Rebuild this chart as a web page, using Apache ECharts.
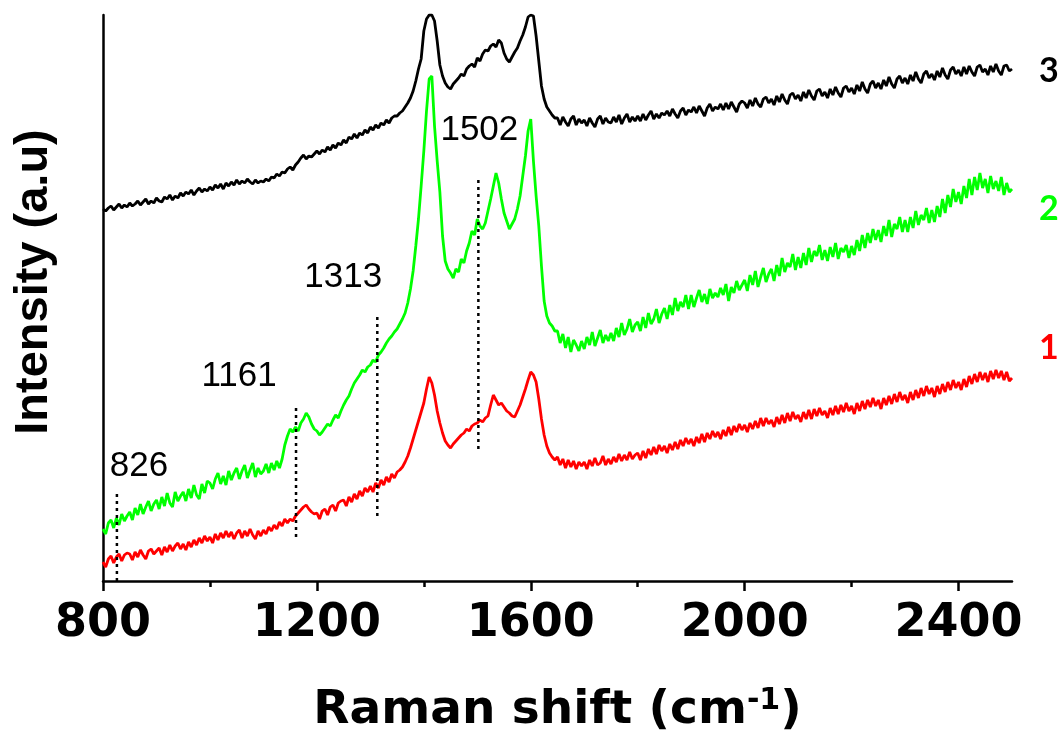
<!DOCTYPE html>
<html>
<head>
<meta charset="utf-8">
<script src="https://cdn.jsdelivr.net/npm/echarts@6/dist/echarts.min.js"></script>
<style>
  html, body { margin: 0; padding: 0; background: #ffffff; }
  #chart { width: 1060px; height: 731px; }
</style>
</head>
<body>
<div id="chart"></div>
<script>
// Raman spectra sampled every 5 cm-1 from 800 to 2500 cm-1 (intensity in arbitrary units)
const shiftStart = 800;
const shiftStep = 5;

// Spectrum 3 (black), one row per 50 cm-1
const intensity3 = [
  372,370,373,375,371,374,377,373,376,374,
  378,375,377,380,376,379,382,377,380,378,
  383,380,379,384,382,386,381,385,383,388,
  385,389,387,391,386,390,393,389,392,390,
  394,391,396,393,397,392,398,395,399,396,
  401,397,400,398,402,399,397,401,398,400,
  399,402,400,404,403,407,405,409,408,412,
  414,411,416,419,423,426,422,425,424,427,
  430,427,431,429,434,431,436,433,438,436,
  441,438,444,442,447,443,448,446,451,448,
  454,451,456,453,458,456,461,458,463,465,
  465,468,470,474,478,483,490,500,512,522,
  550,562,566,566,560,540,516,505,498,494,
  492,497,500,503,507,505,512,515,517,514,
  523,520,527,531,530,535,537,534,541,538,
  528,522,519,524,529,533,540,546,554,564,
  566,565,545,520,495,482,474,470,466,463,
  463,456,464,459,455,462,465,456,462,458,
  461,455,463,458,454,462,465,457,463,459,
  458,464,459,466,457,463,467,459,464,460,
  465,460,467,461,466,470,462,467,463,468,
  466,470,465,472,467,463,470,473,466,471,
  469,474,468,475,470,465,473,477,470,474,
  472,477,471,478,472,479,474,469,477,480,
  478,473,481,475,483,477,474,482,484,478,
  482,476,485,479,487,481,477,486,488,482,
  486,480,489,483,491,485,481,490,492,485,
  489,483,492,486,494,488,484,493,495,489,
  493,487,496,490,499,492,488,497,500,493,
  498,492,501,495,504,497,493,502,505,498,
  503,497,506,500,509,502,498,507,510,503,
  507,501,510,504,513,506,502,511,514,507,
  511,505,514,507,515,509,505,514,516,509,
  512,506,515,509,517,510,506,515,516,510,
  512
];

// Spectrum 2 (green)
const intensity2 = [
  52,47,58,61,53,63,56,67,60,65,
  69,61,73,66,77,67,74,80,70,77,
  81,72,84,75,88,78,74,89,80,85,
  89,80,92,83,96,86,82,97,88,100,
  98,92,102,108,97,105,96,110,101,108,
  113,102,110,116,103,111,118,104,113,107,
  110,117,108,118,111,120,113,122,136,145,
  152,149,154,150,158,162,168,164,157,152,
  150,146,149,153,157,155,161,166,163,170,
  176,181,185,192,198,202,206,211,209,214,
  216,221,219,226,229,233,238,242,245,249,
  252,257,262,268,278,292,310,335,362,395,
  430,470,502,505,455,420,389,345,320,312,
  308,303,312,309,322,318,330,338,350,346,
  362,355,352,358,370,382,395,408,398,382,
  368,360,352,357,362,372,385,405,425,450,
  462,420,385,355,315,280,265,258,255,250,
  250,238,247,233,244,229,241,236,230,240,
  232,244,236,249,235,243,251,238,246,240,
  248,240,253,244,258,246,252,262,249,256,
  259,250,264,253,268,257,262,272,258,267,
  273,262,276,266,283,270,279,274,286,272,
  286,274,283,291,279,287,277,292,283,288,
  284,293,286,297,280,294,288,300,291,296,
  301,290,306,296,310,294,304,313,299,307,
  312,300,316,305,323,309,318,314,327,311,
  324,313,328,316,333,319,330,325,336,321,
  331,320,334,324,338,322,333,329,336,323,
  335,326,341,330,346,333,348,338,352,341,
  351,339,355,345,361,344,357,352,364,349,
  361,349,364,353,370,356,366,361,373,358,
  371,359,375,364,382,368,386,374,392,379,
  389,377,395,383,402,386,404,391,408,393,
  402,388,405,392,400,390,404,386,398,389,
  392
];

// Spectrum 1 (red)
const intensity1 = [
  19,14,22,25,18,24,27,20,26,28,
  27,21,29,24,31,26,22,30,32,27,
  30,33,26,34,29,36,30,35,38,32,
  37,31,39,34,41,36,43,38,45,40,
  44,38,47,41,48,43,50,44,49,42,
  48,51,43,50,45,52,46,42,50,45,
  51,47,54,50,56,52,59,55,62,58,
  62,60,65,68,71,74,76,72,69,67,
  68,62,70,72,66,74,76,70,78,80,
  81,75,84,79,87,82,90,85,93,89,
  95,89,98,93,101,96,104,99,107,103,
  109,111,114,119,125,133,142,151,160,169,
  178,192,204,198,186,170,158,148,140,136,
  133,137,140,143,146,148,152,150,155,157,
  158,161,159,163,165,176,186,181,176,178,
  174,170,168,165,164,170,176,184,192,201,
  209,206,199,182,162,146,135,128,124,121,
  124,116,122,113,121,114,120,112,119,115,
  119,112,121,115,123,116,118,125,116,122,
  117,124,119,127,120,126,121,129,122,126,
  128,121,130,123,132,126,134,127,136,130,
  135,128,137,131,139,132,141,135,143,137,
  142,135,144,138,147,139,148,142,150,144,
  149,142,151,145,154,146,155,149,157,151,
  156,149,158,152,160,153,163,155,163,157,
  161,154,164,157,166,158,168,160,169,162,
  166,159,169,162,171,162,172,165,173,166,
  170,163,173,166,175,167,176,169,178,170,
  175,167,178,170,180,172,181,174,183,175,
  181,172,183,176,185,177,187,179,189,181,
  186,178,189,181,191,183,193,185,195,187,
  193,184,195,187,197,189,199,191,201,193,
  199,191,202,194,205,197,207,199,209,201,
  208,199,210,202,211,203,210,201,209,200,
  203
];

// Marked band positions (cm-1) and the extent of their guide lines
const peakShifts = [826, 1161, 1313, 1502];
const peakLineTop = [87, 174, 264, 404];
const peakLineBottom = [0, 44, 65, 132];

// Axis ticks
const majorTicks = [800, 1200, 1600, 2000, 2400];
const minorTicks = [1000, 1400, 1800, 2200];

const spectrumLabels = ['3', '2', '1'];

// ---- build chart ----
const shifts = intensity3.map((_, i) => shiftStart + i * shiftStep);
const toPairs = arr => arr.map((v, i) => [shifts[i], v]);

const peakLabelOffsets = [[22, -28], [-57, -31], [-34, -40], [1, -47]];

function spectrumSeries(values, color, label, dy) {
  return {
    type: 'line',
    data: toPairs(values),
    symbol: 'none',
    showSymbol: false,
    lineStyle: { color: color, width: 2.8 },
    itemStyle: { color: color },
    z: 2,
    endLabel: {
      show: true,
      formatter: label,
      color: color,
      fontFamily: 'Lato',
      fontWeight: 'bold',
      fontSize: 34,
      distance: 27,
      offset: [0, dy]
    }
  };
}

const guideSeries = peakShifts.map((w, i) => ({
  type: 'line',
  data: [[w, peakLineBottom[i]], [w, peakLineTop[i]]],
  symbol: 'none',
  clip: false,
  lineStyle: { color: '#000', width: 2.5, type: [3, 4] },
  z: 3
}));

const peakLabelSeries = {
  type: 'scatter',
  symbolSize: 0,
  z: 4,
  itemStyle: { opacity: 1 },
  data: peakShifts.map((w, i) => ({
    value: [w, peakLineTop[i]],
    label: { offset: peakLabelOffsets[i] }
  })),
  label: {
    show: true,
    position: 'inside',
    formatter: p => String(p.value[0]),
    fontFamily: 'Liberation Sans',
    fontSize: 35,
    color: '#000000',
    textBorderWidth: 0
  }
};

const chart = echarts.init(document.getElementById('chart'), null, { renderer: 'canvas' });
chart.setOption({
  animation: false,
  backgroundColor: '#ffffff',
  grid: { left: 103, right: 48, top: 15, bottom: 150, outerBoundsMode: 'none', containLabel: false },
  xAxis: [
    {
      type: 'value',
      min: 800,
      max: 2500,
      position: 'bottom',
      axisLine: { show: true, lineStyle: { color: '#000', width: 2.5 } },
      axisTick: { show: true, customValues: majorTicks, length: 10, lineStyle: { color: '#000', width: 2.5 } },
      axisLabel: {
        customValues: majorTicks,
        formatter: v => String(v),
        margin: 20,
        fontFamily: 'DejaVu Sans',
        fontWeight: 'bold',
        fontSize: 46,
        color: '#000'
      },
      splitLine: { show: false },
      name: 'Raman shift (cm{sup|-1})',
      nameLocation: 'middle',
      nameGap: 105,
      nameTextStyle: {
        fontFamily: 'DejaVu Sans',
        fontWeight: 'bold',
        fontSize: 47,
        color: '#000',
        rich: {
          sup: {
            fontFamily: 'DejaVu Sans',
            fontWeight: 'bold',
            fontSize: 30,
            color: '#000',
            verticalAlign: 'top',
            padding: [0, 0, 20, 0]
          }
        }
      }
    },
    {
      type: 'value',
      min: 800,
      max: 2500,
      position: 'bottom',
      offset: 0,
      axisLine: { show: false },
      axisTick: { show: true, customValues: minorTicks, length: 6, lineStyle: { color: '#000', width: 2.5 } },
      axisLabel: { show: false },
      splitLine: { show: false }
    }
  ],
  yAxis: {
    type: 'value',
    min: 0,
    max: 566,
    axisLine: { show: true, lineStyle: { color: '#000', width: 2.5 } },
    axisTick: { show: false },
    axisLabel: { show: false },
    splitLine: { show: false },
    name: 'Intensity (a.u)',
    nameLocation: 'middle',
    nameRotate: 90,
    nameGap: 45,
    nameTextStyle: {
      fontFamily: 'Liberation Sans',
      fontWeight: 'bold',
      fontSize: 47,
      color: '#000',
      padding: [0, 0, 0, 32]
    }
  },
  series: [
    spectrumSeries(intensity3, '#000000', spectrumLabels[0], 2),
    spectrumSeries(intensity2, '#00ff00', spectrumLabels[1], 20),
    spectrumSeries(intensity1, '#ff0000', spectrumLabels[2], -30),
    ...guideSeries,
    peakLabelSeries
  ]
});
</script>
</body>
</html>
